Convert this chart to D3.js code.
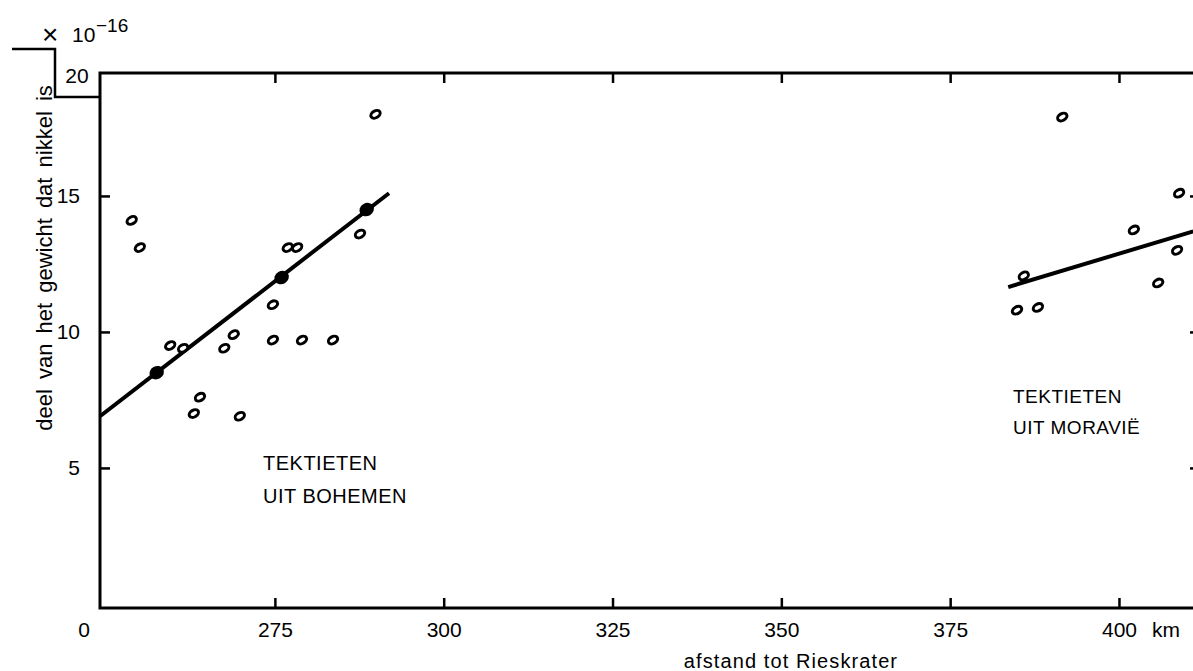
<!DOCTYPE html>
<html>
<head>
<meta charset="utf-8">
<script src="https://cdn.jsdelivr.net/npm/d3@7"></script>
<style>
  body { margin: 0; background: #fff; }
  svg { display: block; font-family: "Liberation Sans", Arial, sans-serif; }
  .tick line { stroke: #000; stroke-width: 2.5; }
  .tick text { font-size: 21px; fill: #000; }
</style>
</head>
<body>
<script>
'use strict';

// page size
let width = 1193,
  height = 671

// axis ticks
const xTicks = [275, 300, 325, 350, 375, 400];
const yTicks = [5, 10, 15];

// tektieten uit Bohemen (open symbols)
const bohemenKm = [289.9, 253.8, 255.0, 276.9, 278.3, 287.6, 274.7, 268.9, 267.5, 274.7, 279.0, 283.6, 259.5, 261.4, 263.9, 263.0, 269.8];
const bohemenNi = [18.0, 14.1, 13.1, 13.1, 13.1, 13.6, 11.0, 9.9, 9.4, 9.7, 9.7, 9.7, 9.5, 9.4, 7.6, 7.0, 6.9];

// group means for Bohemen (filled symbols)
const meanKm = [257.5, 276.0, 288.6];
const meanNi = [8.5, 12.0, 14.5];

// tektieten uit Moravië
const moravieKm = [391.6, 408.9, 402.2, 408.6, 385.9, 405.8, 384.9, 388.0];
const moravieNi = [17.9, 15.1, 13.75, 13.0, 12.06, 11.8, 10.8, 10.9];

// fitted lines (start and end)
const bohemenFit = [[249.1, 6.9], [291.9, 15.1]];
const moravieFit = [[383.6, 11.65], [411.0, 13.7]];

window.onload = function () {
  let svg = d3.select("body")
    .append("svg")
    .attr("width", width)
    .attr("height", height);

  // scales, the frame runs past the right edge of the page
  let x = d3.scaleLinear().domain([249.1, 412]).range([100, 1200]);
  let y = d3.scaleLinear().domain([-0.15, 19.52]).range([608, 73]);

  drawAxes(svg, x, y);
  drawLabels(svg);
  drawFit(svg, x, y, bohemenFit);
  drawFit(svg, x, y, moravieFit);
  drawOpen(svg, x, y, bohemenKm, bohemenNi);
  drawOpen(svg, x, y, moravieKm, moravieNi);
  drawFilled(svg, x, y, meanKm, meanNi);
}

// frame, ticks and tick labels
function drawAxes(svg, x, y) {
  let x0 = x.range()[0], x1 = x.range()[1],
    y0 = y.range()[0], y1 = y.range()[1];

  svg.append("path")
    .attr("d", `M${x1},${y1}H${x0}V${y0}H${x1}`)
    .attr("fill", "none")
    .attr("stroke", "#000")
    .attr("stroke-width", 3);

  // step in the upper left corner
  svg.append("path")
    .attr("d", "M12,49H55V97H100")
    .attr("fill", "none")
    .attr("stroke", "#000")
    .attr("stroke-width", 2.5);

  svg.append("g")
    .attr("transform", `translate(0,${y0})`)
    .call(d3.axisBottom(x).tickValues(xTicks).tickSize(-10).tickPadding(14).tickFormat(d3.format("d")))
    .call(g => g.select(".domain").remove());

  svg.append("g")
    .attr("transform", `translate(0,${y1})`)
    .call(d3.axisTop(x).tickValues(xTicks).tickSize(-10).tickFormat(""))
    .call(g => g.select(".domain").remove());

  svg.append("g")
    .attr("transform", `translate(${x0},0)`)
    .call(d3.axisLeft(y).tickValues(yTicks).tickSize(-10).tickPadding(20).tickFormat(d3.format("d")))
    .call(g => g.select(".domain").remove());

  svg.append("g")
    .attr("transform", `translate(${x1},0)`)
    .call(d3.axisRight(y).tickValues(yTicks).tickSize(-10).tickFormat(""))
    .call(g => g.select(".domain").remove());
}

// axis titles and the two group names
function drawLabels(svg) {
  let txt = (x, y, s, size) => svg.append("text")
    .attr("x", x)
    .attr("y", y)
    .attr("font-size", size)
    .attr("fill", "#000")
    .text(s);

  txt(84, 637, "0", 21).attr("text-anchor", "middle");
  txt(77, 83, "20", 21).attr("text-anchor", "middle");
  txt(1152, 637, "km", 21);

  // multiplier
  txt(42, 44, "×", 28);
  let m = svg.append("text").attr("font-size", 19).attr("fill", "#000");
  m.append("tspan").attr("x", 72).attr("y", 42).attr("font-size", 21).text("10");
  m.append("tspan").attr("x", 96).attr("y", 32).text("−16");

  txt(791, 668, "afstand tot Rieskrater", 20)
    .attr("text-anchor", "middle")
    .attr("letter-spacing", 1.1);

  svg.append("text")
    .attr("transform", "translate(52,258) rotate(-90)")
    .attr("text-anchor", "middle")
    .attr("font-size", 22)
    .attr("word-spacing", 4)
    .attr("fill", "#000")
    .text("deel van het gewicht dat nikkel is");

  txt(263, 470, "TEKTIETEN", 20).attr("letter-spacing", 0.5);
  txt(263, 503, "UIT BOHEMEN", 20).attr("letter-spacing", 0.5);
  txt(1013, 403, "TEKTIETEN", 19).attr("letter-spacing", 0.5);
  txt(1013, 434, "UIT MORAVIË", 19).attr("letter-spacing", 0.5);
}

// straight fitted line
function drawFit(svg, x, y, fit) {
  svg.append("path")
    .datum(fit)
    .attr("d", d3.line().x(d => x(d[0])).y(d => y(d[1])))
    .attr("stroke", "#000")
    .attr("stroke-width", 4)
    .attr("fill", "none");
}

// single tektites, small tilted rings
function drawOpen(svg, x, y, km, ni) {
  svg.append("g")
    .selectAll("ellipse")
    .data(km.map((d, i) => [d, ni[i]]))
    .join("ellipse")
    .attr("transform", d => `translate(${x(d[0])},${y(d[1])}) rotate(-30)`)
    .attr("rx", 5)
    .attr("ry", 3.4)
    .attr("fill", "#fff")
    .attr("stroke", "#000")
    .attr("stroke-width", 3);
}

// group means, filled dots on the line
function drawFilled(svg, x, y, km, ni) {
  svg.append("g")
    .selectAll("ellipse")
    .data(km.map((d, i) => [d, ni[i]]))
    .join("ellipse")
    .attr("transform", d => `translate(${x(d[0])},${y(d[1])}) rotate(-30)`)
    .attr("rx", 7.5)
    .attr("ry", 6.5)
    .attr("fill", "#000");
}
</script>
</body>
</html>
